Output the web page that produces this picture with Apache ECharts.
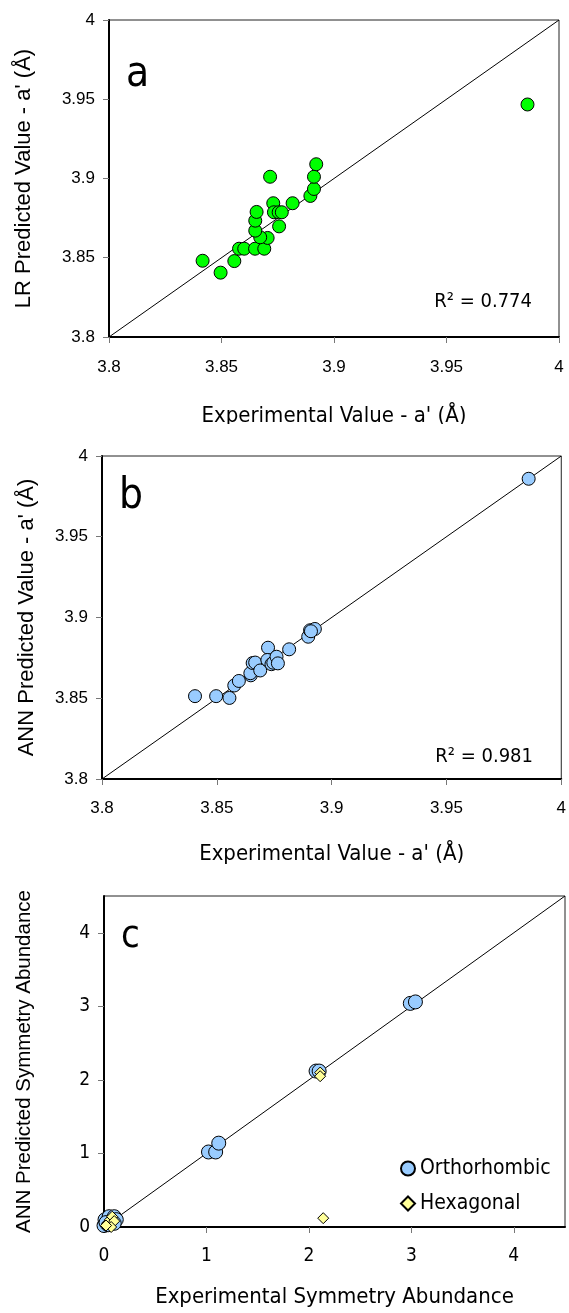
<!DOCTYPE html>
<html>
<head>
<meta charset="utf-8">
<script src="https://cdn.jsdelivr.net/npm/echarts@6/dist/echarts.min.js"></script>
<style>
  html, body { margin: 0; padding: 0; background: #fff; }
  body { width: 569px; height: 1313px; position: relative; overflow: hidden; }
  .panel { position: absolute; left: 0; width: 569px; overflow: hidden; }
  .panel > div { width: 569px; }
</style>
</head>
<body>
<div class="panel" style="top:0;height:424px"><div id="chartA" style="height:440px"></div></div>
<div class="panel" style="top:440px;height:430px"><div id="chartB" style="height:430px"></div></div>
<div class="panel" style="top:870px;height:443px"><div id="chartC" style="height:443px"></div></div>
<script>
// Panel a: linear regression prediction of lattice parameter a'
const lrExperimental = [3.8416, 3.8496, 3.8557, 3.8578, 3.8601, 3.8649, 3.8690, 3.8705, 3.8672, 3.8650,
  3.8650, 3.8656, 3.8716, 3.8730, 3.8733, 3.8754, 3.8768, 3.8756, 3.8816, 3.8895, 3.8911, 3.8911, 3.8921, 3.9860];
const lrPredicted = [3.8481, 3.8406, 3.8479, 3.8557, 3.8557, 3.8557, 3.8557, 3.8625, 3.8629, 3.8671,
  3.8734, 3.8789, 3.9011, 3.8844, 3.8787, 3.8787, 3.8787, 3.8698, 3.8844, 3.8890, 3.8934, 3.9011, 3.9090, 3.9467];

// Panel b: neural network prediction of lattice parameter a'
const annExperimental = [3.8405, 3.8497, 3.8555, 3.8576, 3.8596, 3.8648, 3.8646, 3.8656, 3.8667, 3.8689,
  3.8723, 3.8720, 3.8738, 3.8746, 3.8760, 3.8766, 3.8815, 3.8898, 3.8906, 3.8927, 3.8910, 3.9858];
const annPredicted = [3.8513, 3.8513, 3.8502, 3.8579, 3.8607, 3.8642, 3.8655, 3.8718, 3.8721, 3.8672,
  3.8813, 3.8737, 3.8711, 3.8720, 3.8757, 3.8716, 3.8803, 3.8881, 3.8921, 3.8929, 3.8915, 3.9859];

// Panel c: symmetry abundance, orthorhombic and hexagonal phases
const orthoExperimental = [0.00, 0.01, 0.05, 0.10, 0.12, 0.10, 0.04, 0.02, 1.02, 1.09, 1.12, 2.07, 2.10, 2.99, 3.04];
const orthoPredicted    = [0.02, 0.10, 0.14, 0.14, 0.10, 0.05, 0.03, 0.06, 1.02, 1.02, 1.14, 2.12, 2.12, 3.04, 3.06];
const hexExperimental = [0.03, 0.06, 0.08, 0.10, 0.07, 0.02, 2.11, 2.11, 2.14];
const hexPredicted    = [0.05, 0.10, 0.14, 0.08, 0.00, 0.02, 2.10, 2.05, 0.12];

const latticeTicks = [3.8, 3.85, 3.9, 3.95, 4];
const abundanceTicks = [0, 1, 2, 3, 4];
const latticeRange = [3.8, 4];
const abundanceRange = [0, 4.5];

const panelLetters = ['a', 'b', 'c'];
const r2Labels = ['R\u00B2 = 0.774', 'R\u00B2 = 0.981'];

const SANS = "'Liberation Sans', Arial, sans-serif";
const NARROW = "'Liberation Sans Narrow', 'DejaVu Sans Condensed', 'Liberation Sans', sans-serif";

function pairs(xs, ys) { return xs.map((x, i) => [x, ys[i]]); }

function fmt(v) { return String(Math.round(v * 1000) / 1000); }

function valueAxis(range, ticks, opts) {
  return {
    type: 'value',
    min: range[0],
    max: range[1],
    interval: ticks[1] - ticks[0],
    name: opts.name,
    nameLocation: 'middle',
    nameGap: opts.nameGap,
    nameRotate: opts.nameRotate,
    nameTextStyle: { fontFamily: opts.nameFont, fontSize: opts.nameSize, color: '#000', verticalAlign: 'middle', align: 'center' },
    axisLine: { show: true, lineStyle: { color: '#000', width: 2 } },
    axisTick: { show: true, inside: false, length: 6, lineStyle: { color: '#777', width: 1 } },
    axisLabel: {
      margin: opts.labelMargin, fontFamily: opts.labelFont || SANS, fontSize: opts.labelSize, color: '#000',
      showMaxLabel: opts.showMaxLabel !== false,
      formatter: v => ticks.some(t => Math.abs(t - v) < 1e-9) ? fmt(v) : ''
    },
    splitLine: { show: false }
  };
}

function frameGrid(g) {
  return Object.assign({ show: true, borderColor: '#222', borderWidth: 1, backgroundColor: 'transparent' }, g);
}

function diagonal(range) {
  return {
    type: 'line', data: [[range[0], range[0]], [range[1], range[1]]],
    symbol: 'none', silent: true, z: 1,
    lineStyle: { color: '#000', width: 1 }
  };
}

// ---------- Panel a ----------
const chartA = echarts.init(document.getElementById('chartA'), null, { renderer: 'canvas' });
chartA.setOption({
  animation: false,
  grid: frameGrid({ left: 109, top: 20, width: 450, height: 317 }),
  xAxis: valueAxis(latticeRange, latticeTicks, { name: "Experimental Value - a' (\u00C5)", nameGap: 79, nameFont: NARROW, nameSize: 22, labelMargin: 22, labelSize: 17 }),
  yAxis: valueAxis(latticeRange, latticeTicks, { name: "LR Predicted Value - a' (\u00C5)", nameGap: 85, nameRotate: 90, nameFont: SANS, nameSize: 22, labelMargin: 14, labelSize: 17 }),
  graphic: [
    { type: 'text', left: 126, top: 54, style: { text: panelLetters[0], font: "42px " + NARROW, fill: '#000' } },
    { type: 'text', right: 37, top: 292, style: { text: r2Labels[0], font: "20px " + NARROW, fill: '#000' } }
  ],
  series: [
    diagonal(latticeRange),
    {
      type: 'scatter', data: pairs(lrExperimental, lrPredicted), symbol: 'circle', symbolSize: 13, z: 3,
      itemStyle: { color: '#00FF00', borderColor: '#000', borderWidth: 1, opacity: 1 }
    }
  ]
});

// ---------- Panel b ----------
const chartB = echarts.init(document.getElementById('chartB'), null, { renderer: 'canvas' });
chartB.setOption({
  animation: false,
  grid: frameGrid({ left: 102, top: 16, width: 466, height: 331 }),
  xAxis: valueAxis(latticeRange, latticeTicks, { name: "Experimental Value - a' (\u00C5)", nameGap: 75, nameFont: NARROW, nameSize: 22, labelMargin: 21, labelSize: 17 }),
  yAxis: valueAxis(latticeRange, latticeTicks, { name: "ANN Predicted Value - a' (\u00C5)", nameGap: 75, nameRotate: 90, nameFont: SANS, nameSize: 22, labelMargin: 14, labelSize: 17 }),
  graphic: [
    { type: 'text', left: 119, top: 36, style: { text: panelLetters[1], font: "42px " + NARROW, fill: '#000' } },
    { type: 'text', right: 36, top: 307, style: { text: r2Labels[1], font: "20px " + NARROW, fill: '#000' } }
  ],
  series: [
    diagonal(latticeRange),
    {
      type: 'scatter', data: pairs(annExperimental, annPredicted), symbol: 'circle', symbolSize: 13, z: 3,
      itemStyle: { color: '#99CCFF', borderColor: '#000', borderWidth: 1, opacity: 1 }
    }
  ]
});

// ---------- Panel c ----------
const chartC = echarts.init(document.getElementById('chartC'), null, { renderer: 'canvas' });
chartC.setOption({
  animation: false,
  grid: frameGrid({ left: 104, top: 26, width: 461, height: 332 }),
  xAxis: valueAxis(abundanceRange, abundanceTicks, { name: 'Experimental Symmetry Abundance', nameGap: 70, nameFont: NARROW, nameSize: 22, labelMargin: 20, labelSize: 19, labelFont: NARROW, showMaxLabel: false }),
  yAxis: valueAxis(abundanceRange, abundanceTicks, { name: 'ANN Predicted Symmetry Abundance', nameGap: 80, nameRotate: 90, nameFont: SANS, nameSize: 20.5, labelMargin: 14, labelSize: 19, labelFont: NARROW, showMaxLabel: false }),
  legend: {
    orient: 'vertical', left: 395, top: 283, itemGap: 14, itemWidth: 14, itemHeight: 14,
    textStyle: { fontFamily: NARROW, fontSize: 21, color: '#000' },
    data: [
      { name: 'Orthorhombic', icon: 'circle' },
      { name: 'Hexagonal', icon: 'diamond' }
    ]
  },
  graphic: [
    { type: 'text', left: 121, top: 48, style: { text: panelLetters[2], font: "38px " + NARROW, fill: '#000' } }
  ],
  series: [
    diagonal(abundanceRange),
    {
      name: 'Orthorhombic', type: 'scatter', data: pairs(orthoExperimental, orthoPredicted), symbol: 'circle', symbolSize: 14, z: 3,
      itemStyle: { color: '#99CCFF', borderColor: '#000', borderWidth: 1, opacity: 1 }
    },
    {
      name: 'Hexagonal', type: 'scatter', data: pairs(hexExperimental, hexPredicted), symbol: 'diamond', symbolSize: 11, z: 4,
      itemStyle: { color: '#FFFF99', borderColor: '#000', borderWidth: 1, opacity: 1 }
    }
  ]
});
</script>
</body>
</html>
